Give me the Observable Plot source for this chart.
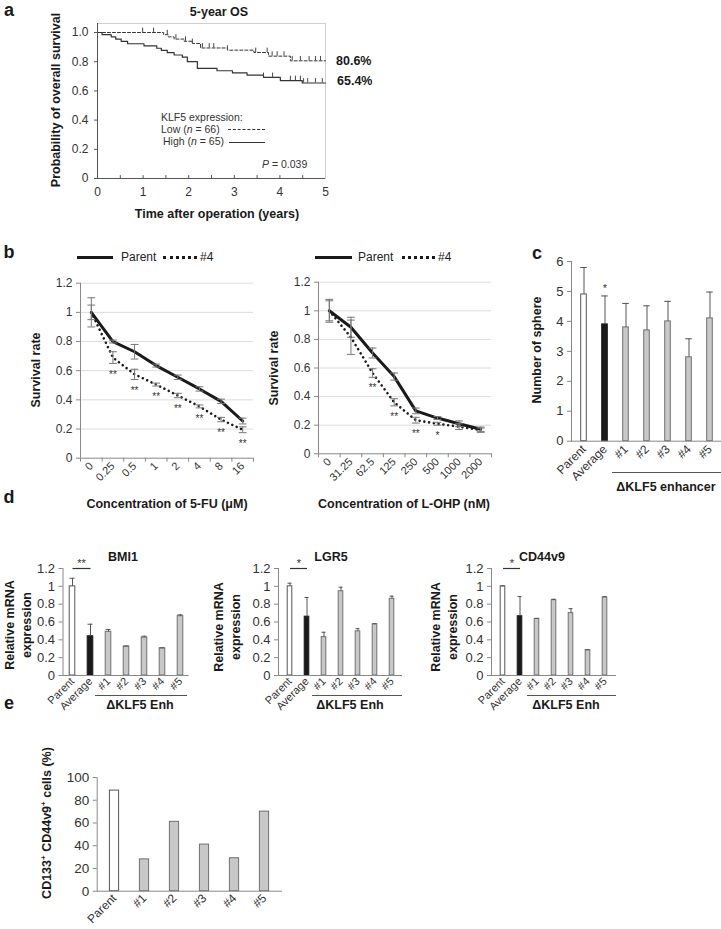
<!DOCTYPE html>
<html><head><meta charset="utf-8">
<script src="https://cdn.jsdelivr.net/npm/d3@7"></script>
<script src="https://cdn.jsdelivr.net/npm/@observablehq/plot@0.6"></script>
<style>
body{margin:0;background:#fff;}
#fig{position:relative;width:721px;height:929px;font-family:"Liberation Sans",Arial,Helvetica,sans-serif;color:#1a1a1a;overflow:hidden;background:#fff}
svg{overflow:visible}
</style></head><body><div id="fig"></div>
<script>
// ---------------- DATA ----------------
// Panel a: Kaplan-Meier 5-year OS
const yearTicks = [0, 1, 2, 3, 4, 5];
const yearMinorTicks = [0.5, 1, 1.5, 2, 2.5, 3, 3.5, 4, 4.5];
const survTicks = [0, 0.2, 0.4, 0.6, 0.8, 1.0];
const lowTimes = [0, 1.45, 1.55, 1.68, 1.9, 2.08, 2.26, 2.85, 3.43, 3.75, 4.23, 5];
const lowSurv  = [1, 0.985, 0.97, 0.955, 0.94, 0.925, 0.894, 0.879, 0.863, 0.838, 0.806, 0.806];
const highTimes = [0, 0.1, 0.3, 0.4, 0.52, 0.66, 1.02, 1.3, 1.4, 1.53, 1.68, 1.86, 1.97, 2.19, 2.62, 2.96, 3.28, 3.64, 4.01, 4.49, 5];
const highSurv  = [1, 0.985, 0.97, 0.954, 0.939, 0.923, 0.908, 0.892, 0.877, 0.862, 0.846, 0.831, 0.8, 0.754, 0.738, 0.723, 0.708, 0.692, 0.671, 0.654, 0.654];
const lowCensor = [0.99, 1.23, 1.53, 1.72, 1.93, 2.08, 2.3, 2.45, 2.55, 2.85, 3.47, 3.72, 3.83, 3.94, 4.09, 4.27, 4.45, 4.64, 4.78, 4.89];
const highCensor = [3.64, 3.84, 4.23, 4.34, 4.45, 4.52, 4.61, 4.78, 4.93];

// Panel b: dose response
const rateTicks = [0, 0.2, 0.4, 0.6, 0.8, 1, 1.2];
const fuConc = ["0", "0.25", "0.5", "1", "2", "4", "8", "16"];
const fuParent = [1.0, 0.80, 0.73, 0.635, 0.555, 0.475, 0.39, 0.255];
const fuParentErr = [0.1, 0.01, 0.05, 0.01, 0.015, 0.015, 0.015, 0.02];
const fu4 = [1.0, 0.69, 0.575, 0.505, 0.43, 0.355, 0.265, 0.195];
const fu4Err = [0.05, 0.04, 0.035, 0.01, 0.015, 0.01, 0.015, 0.02];
const fuSig = ["", "**", "**", "**", "**", "**", "**", "**"];
const oxConc = ["0", "31.25", "62.5", "125", "250", "500", "1000", "2000"];
const oxParent = [1.0, 0.885, 0.705, 0.54, 0.30, 0.25, 0.21, 0.172];
const oxParentErr = [0.08, 0.07, 0.035, 0.025, 0.02, 0.01, 0.02, 0.015];
const ox4 = [1.0, 0.815, 0.565, 0.36, 0.235, 0.21, 0.19, 0.165];
const ox4Err = [0.07, 0.12, 0.03, 0.025, 0.02, 0.01, 0.02, 0.015];
const oxSig = ["", "", "**", "**", "**", "*", "", ""];

// Panel c: spheres
const sphereCats = ["Parent", "Average", "#1", "#2", "#3", "#4", "#5"];
const sphereVals = [4.9, 3.9, 3.8, 3.7, 4.0, 2.8, 4.1];
const sphereErr = [0.9, 0.95, 0.8, 0.82, 0.67, 0.62, 0.88];
const sphereSig = ["", "*", "", "", "", "", ""];
const sphereTicks = [0, 1, 2, 3, 4, 5, 6];

// Panel d: qPCR
const mrnaTicks = [0, 0.2, 0.4, 0.6, 0.8, 1, 1.2];
const bmi1Vals = [1.0, 0.44, 0.49, 0.325, 0.425, 0.305, 0.665];
const bmi1Err  = [0.09, 0.135, 0.025, 0.005, 0.015, 0.005, 0.015];
const lgr5Vals = [1.0, 0.66, 0.43, 0.945, 0.495, 0.575, 0.86];
const lgr5Err  = [0.035, 0.215, 0.055, 0.045, 0.03, 0.005, 0.03];
const cd44Vals = [1.0, 0.665, 0.635, 0.845, 0.70, 0.285, 0.875];
const cd44Err  = [0.005, 0.22, 0.005, 0.01, 0.05, 0.003, 0.01];

// Panel e
const cdCats = ["Parent", "#1", "#2", "#3", "#4", "#5"];
const cdVals = [88.5, 28, 61, 41, 29, 70];
const cdTicks = [0, 20, 40, 60, 80, 100];

// ---------------- HELPERS ----------------
const fig = document.getElementById("fig");
const FONT = '"Liberation Sans", Arial, Helvetica, sans-serif';
const baseStyle = {fontFamily: FONT, fontSize: "12px", color: "#333", background: "transparent", overflow: "visible"};
const fmtG = d => String(+d.toFixed(1));

function txt(html, x, y, o = {}) {
  const d = document.createElement("div");
  d.innerHTML = html;
  const size = o.size ?? 12.5;
  Object.assign(d.style, {
    position: "absolute", left: x + "px", top: y + "px", whiteSpace: "nowrap",
    lineHeight: o.lh ?? "1", fontSize: size + "px", fontWeight: o.bold === false ? "normal" : "bold",
    color: o.color ?? "#1a1a1a", textAlign: "center"
  });
  const ax = o.anchor === "start" ? "0%" : o.anchor === "end" ? "-100%" : "-50%";
  d.style.transform = `translate(${ax},-50%)` + (o.rotate ? ` rotate(${o.rotate}deg)` : "");
  fig.appendChild(d);
}
function hline(x1, x2, y, border) {
  const d = document.createElement("div");
  Object.assign(d.style, {position: "absolute", left: x1 + "px", top: y + "px", width: (x2 - x1) + "px", height: "0", borderTop: border});
  fig.appendChild(d);
}
function place(svg, left, top) {
  Object.assign(svg.style, {position: "absolute", left: left + "px", top: top + "px", overflow: "visible"});
  fig.appendChild(svg);
}
const stepAt = (T, S, t) => { let s = S[0]; for (let i = 0; i < T.length; i++) if (T[i] <= t) s = S[i]; return s; };

// ---------------- PANEL A ----------------
const lowRows = lowTimes.map((t, i) => ({t, s: lowSurv[i]}));
const highRows = highTimes.map((t, i) => ({t, s: highSurv[i]}));
const kmX = [0, 5];
const pa = Plot.plot({
  width: 340, height: 200, marginLeft: 97, marginRight: 15, marginTop: 23, marginBottom: 22,
  x: {domain: kmX}, y: {domain: [0, 1.0616]},
  style: baseStyle,
  marks: [
    Plot.frame({stroke: "#cfcfcf"}),
    Plot.ruleX(yearMinorTicks, {y1: 0, y2: 0.02, stroke: "#555"}),
    Plot.line(lowRows, {x: "t", y: "s", curve: "step-after", stroke: "#333", strokeWidth: 1, strokeDasharray: "3,2"}),
    Plot.line(highRows, {x: "t", y: "s", curve: "step-after", stroke: "#333", strokeWidth: 1.2}),
    Plot.ruleX(lowCensor, {x: d => d, y1: d => stepAt(lowTimes, lowSurv, d), y2: d => stepAt(lowTimes, lowSurv, d) + 0.03, stroke: "#444"}),
    Plot.ruleX(highCensor, {x: d => d, y1: d => stepAt(highTimes, highSurv, d), y2: d => stepAt(highTimes, highSurv, d) + 0.03, stroke: "#444"}),
    Plot.ruleY([0], {stroke: "#555"}),
    Plot.ruleX([kmX[0]], {stroke: "#555"}),
    Plot.axisY(survTicks, {tickSize: 3, tickPadding: 6, tickFormat: d => d === 0 ? "0" : d.toFixed(1), label: null, stroke: "#555", fontSize: 12}),
    Plot.axisX(yearTicks, {tickSize: 0, tickPadding: 9, label: null, fontSize: 12})
  ]
});
place(pa, 0, 0);
txt("a", 9, 10, {size: 18});
txt("5-year OS", 219, 12);
txt("Probability of overall survival", 56, 100, {rotate: -90});
txt("Time after operation (years)", 217, 214);
txt("80.6%", 336, 61, {anchor: "start"});
txt("65.4%", 337, 81, {anchor: "start"});
txt("KLF5 expression:", 161, 117, {anchor: "start", bold: false, size: 10.5, color: "#333"});
txt("Low (<i>n</i> = 66)", 161, 129, {anchor: "start", bold: false, size: 10.5, color: "#333"});
txt("High (<i>n</i> = 65)", 163, 141, {anchor: "start", bold: false, size: 10.5, color: "#333"});
hline(228, 265, 129, "1px dashed #333");
hline(229, 265, 141.5, "1px solid #333");
txt("<i>P</i> = 0.039", 262, 164, {anchor: "start", bold: false, size: 10.5, color: "#333"});

// ---------------- PANEL B ----------------
const bxDomain = [-0.5, 7.5];
function dosePanel({cats, par, parErr, p4, p4Err, sig, width, height, mL, mR, mT, mB}) {
  const rows = cats.map((c, i) => ({i, c, par: par[i], parErr: parErr[i], p4: p4[i], p4Err: p4Err[i], sig: sig[i]}));
  const errRows = rows.flatMap(d => [{i: d.i, v: d.par, e: d.parErr}, {i: d.i, v: d.p4, e: d.p4Err}]);
  const capHalf = 0.18;
  return Plot.plot({
    width, height, marginLeft: mL, marginRight: mR, marginTop: mT, marginBottom: mB,
    x: {domain: bxDomain}, y: {domain: [0, 1.2]},
    style: baseStyle,
    marks: [
      Plot.ruleY(rateTicks.filter(v => v > 0), {stroke: "#dcdcdc"}),
      Plot.ruleY([0], {stroke: "#888"}),
      Plot.ruleX([bxDomain[0]], {stroke: "#888"}),
      Plot.axisY(rateTicks, {tickSize: 4, tickPadding: 4, tickFormat: fmtG, label: null, stroke: "#888", fontSize: 12}),
      Plot.axisX(d3.range(cats.length + 1).map(i => i - 0.5), {tickSize: 4, tickFormat: () => "", label: null, stroke: "#888"}),
      Plot.axisX(d3.range(cats.length), {tickSize: 0, tickPadding: 6, tickRotate: -45, tickFormat: i => cats[i], label: null, fontSize: 11}),
      Plot.line(rows, {x: "i", y: "par", stroke: "#1a1a1a", strokeWidth: 3}),
      Plot.line(rows, {x: "i", y: "p4", stroke: "#1a1a1a", strokeWidth: 2.6, strokeDasharray: "0.01,4.8", strokeLinecap: "round"}),
      Plot.ruleX(errRows, {x: "i", y1: d => d.v - d.e, y2: d => d.v + d.e, stroke: "#777"}),
      Plot.link(errRows, {x1: d => d.i - capHalf, x2: d => d.i + capHalf, y1: d => d.v + d.e, y2: d => d.v + d.e, stroke: "#777"}),
      Plot.link(errRows, {x1: d => d.i - capHalf, x2: d => d.i + capHalf, y1: d => d.v - d.e, y2: d => d.v - d.e, stroke: "#777"}),
      Plot.text(rows.filter(d => d.sig), {x: "i", y: d => d.p4 - d.p4Err, text: "sig", dy: 11, fontSize: 10, fill: "#333"})
    ]
  });
}
place(dosePanel({cats: fuConc, par: fuParent, parErr: fuParentErr, p4: fu4, p4Err: fu4Err, sig: fuSig,
  width: 263, height: 250, mL: 80, mR: 10, mT: 12.7, mB: 62.3}), 0, 270);
place(dosePanel({cats: oxConc, par: oxParent, parErr: oxParentErr, p4: ox4, p4Err: ox4Err, sig: oxSig,
  width: 231, height: 250, mL: 48, mR: 10, mT: 11.7, mB: 66.7}), 270, 270);
txt("b", 9, 252, {size: 18});
// legends
hline(77, 113, 255.5, "3px solid #1a1a1a");
txt("Parent", 121, 257, {anchor: "start", bold: false, size: 12, color: "#222"});
hline(163, 197, 255.5, "3px dotted #1a1a1a");
txt("#4", 200, 257, {anchor: "start", bold: false, size: 12, color: "#222"});
hline(315, 352, 255.5, "3px solid #1a1a1a");
txt("Parent", 358, 257, {anchor: "start", bold: false, size: 12, color: "#222"});
hline(402, 435, 255.5, "3px dotted #1a1a1a");
txt("#4", 438, 257, {anchor: "start", bold: false, size: 12, color: "#222"});
txt("Survival rate", 36, 370, {rotate: -90});
txt("Survival rate", 274, 368, {rotate: -90});
txt("Concentration of 5-FU (μM)", 167, 504);
txt("Concentration of L-OHP (nM)", 404, 504);

// ---------------- BAR HELPERS ----------------
const fillOf = c => c === "Parent" ? "#ffffff" : c === "Average" ? "#1a1a1a" : "#c8c8c8";
const strokeOf = c => c === "Parent" ? "#555555" : c === "Average" ? "#1a1a1a" : "#707070";
function barPanel({cats, vals, errs, sig, yDomain, yTicks, fmt, width, height, mL, mR, mT, mB,
                   barInset, capInset, tickFont, catFont, catPad, bracket}) {
  const rows = cats.map((c, i) => ({c, v: vals[i], e: errs ? errs[i] : 0, sig: sig ? sig[i] : ""}));
  const marks = [
    Plot.barY(rows, {x: "c", y: "v", fill: d => fillOf(d.c), stroke: d => strokeOf(d.c), strokeWidth: 1, insetLeft: barInset, insetRight: barInset}),
    Plot.ruleY([0], {stroke: "#888"}),
    Plot.frame({anchor: "left", stroke: "#888"}),
    Plot.axisY(yTicks, {tickSize: 4, tickPadding: 4, tickFormat: fmt, label: null, stroke: "#888", fontSize: tickFont}),
    Plot.axisX(cats, {tickSize: 0, tickPadding: catPad, tickRotate: -45, label: null, fontSize: catFont})
  ];
  if (errs) {
    const er = rows.filter(d => d.e > 0);
    marks.push(
      Plot.ruleX(er, {x: "c", y1: "v", y2: d => d.v + d.e, stroke: "#555"}),
      Plot.tickY(er, {x: "c", y: d => d.v + d.e, insetLeft: capInset, insetRight: capInset, stroke: "#555"})
    );
  }
  if (sig && !bracket) {
    marks.push(Plot.text(rows.filter(d => d.sig), {x: "c", y: d => d.v + d.e, text: "sig", dy: -7, fontSize: 11, fill: "#333"}));
  }
  if (bracket) {
    const br = [{a: cats[0], b: cats[1], y: yDomain[1], s: bracket}];
    marks.push(
      Plot.link(br, {x1: "a", x2: "b", y1: "y", y2: "y", stroke: "#333", strokeWidth: 1.2}),
      Plot.text(br, {x: "a", y: "y", text: "s", dx: (width - mL - mR) / cats.length / 2, dy: -5, fontSize: 11, fill: "#333"})
    );
  }
  return Plot.plot({
    width, height, marginLeft: mL, marginRight: mR, marginTop: mT, marginBottom: mB,
    x: {domain: cats, padding: 0}, y: {domain: yDomain},
    style: baseStyle,
    marks
  });
}

// ---------------- PANEL C ----------------
place(barPanel({cats: sphereCats, vals: sphereVals, errs: sphereErr, sig: sphereSig,
  yDomain: [0, 6], yTicks: sphereTicks, fmt: d => String(d),
  width: 181, height: 246, mL: 31, mR: 0, mT: 21, mB: 45.3,
  barInset: 7.7, capInset: 7.2, tickFont: 13, catFont: 12, catPad: 6}), 540, 240);
txt("c", 537, 253, {size: 18});
txt("Number of sphere", 537, 350, {rotate: -90});
hline(612, 721, 472, "1.5px solid #555");
txt("ΔKLF5 enhancer", 666, 487);

// ---------------- PANEL D ----------------
const dCommon = {cats: sphereCats, yDomain: [0, 1.2], yTicks: mrnaTicks, fmt: fmtG,
  height: 150, mT: 18, mB: 25, barInset: 6.2, capInset: 6.5, tickFont: 13, catFont: 11, catPad: 4};
place(barPanel({...dCommon, vals: bmi1Vals, errs: bmi1Err, bracket: "**", width: 160, mL: 22.5, mR: 11.5}), 40, 550);
place(barPanel({...dCommon, vals: lgr5Vals, errs: lgr5Err, bracket: "*", width: 160, mL: 23, mR: 13}), 255, 550);
place(barPanel({...dCommon, vals: cd44Vals, errs: cd44Err, bracket: "*", width: 160, mL: 21, mR: 14}), 470, 550);
txt("d", 9, 497, {size: 18});
txt("BMI1", 123, 557);
txt("LGR5", 331, 557);
txt("CD44v9", 542, 557);
txt("Relative mRNA<br>expression", 18.5, 625, {rotate: -90, lh: "17px"});
txt("Relative mRNA<br>expression", 227.5, 627, {rotate: -90, lh: "17px"});
txt("Relative mRNA<br>expression", 444.5, 627, {rotate: -90, lh: "17px"});
hline(95, 187, 695, "1.5px solid #555");
hline(312, 402, 695, "1.5px solid #555");
hline(527, 616, 695, "1.5px solid #555");
txt("ΔKLF5 Enh", 140, 705);
txt("ΔKLF5 Enh", 350, 705);
txt("ΔKLF5 Enh", 566, 705);

// ---------------- PANEL E ----------------
place(barPanel({cats: cdCats, vals: cdVals, yDomain: [0, 100], yTicks: cdTicks, fmt: d => String(d),
  width: 220, height: 164, mL: 26.7, mR: 8, mT: 12, mB: 38.3,
  barInset: 10.4, capInset: 10, tickFont: 13.5, catFont: 12, catPad: 5}), 70, 765);
txt("e", 9, 703, {size: 18});
txt("CD133<sup style='font-size:8px'>+</sup> CD44v9<sup style='font-size:8px'>+</sup> cells (%)", 47, 823, {rotate: -90});
</script></body></html>
